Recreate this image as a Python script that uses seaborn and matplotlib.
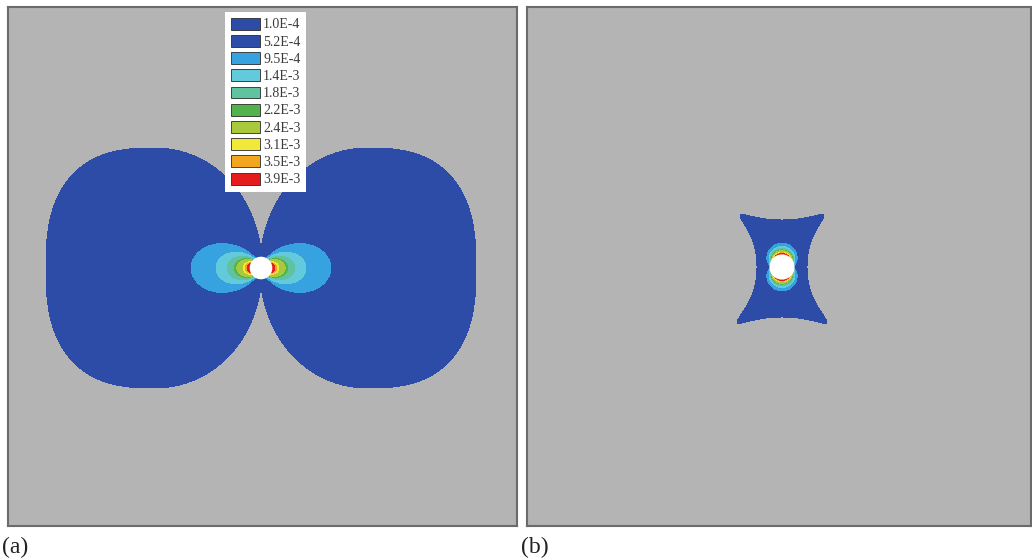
import numpy as np
import matplotlib
matplotlib.use("Agg")
import matplotlib.pyplot as plt
from matplotlib.patches import Patch, Circle
import seaborn as sns

# Contour levels of the equivalent strain and their fill colours
level_values = [1.0e-4, 5.2e-4, 9.5e-4, 1.4e-3, 1.8e-3, 2.2e-3, 2.4e-3, 3.1e-3, 3.5e-3, 3.9e-3]
level_labels = ["1.0E-4", "5.2E-4", "9.5E-4", "1.4E-3", "1.8E-3",
                "2.2E-3", "2.4E-3", "3.1E-3", "3.5E-3", "3.9E-3"]
level_colors = ["#2D4CA8", "#2D4CA8", "#36A3E0", "#62CADB", "#60C3A0",
                "#52B24C", "#A9C93C", "#F2E83A", "#F2A51E", "#E61B1B"]
panel_labels = ["(a)", "(b)"]

# Geometry of the two models (pixel-scale units, hole centre at origin)
hole_radius = [11.3, 12.6]
# (a) horizontal loading: two rounded lobes plus a near-hole concentration
lobe_center, lobe_half_w, lobe_half_h = 107.0, 108.0, 120.0
lobe_power_outer, lobe_power_inner = 2.6, 2.05
near_reach_a, near_shape_a, near_decay_a = 70.0, 2.5, 0.87
# (b) vertical loading: hourglass zone with flared corners plus caps at the hole
waist_b, flare_b, flare_height_b, flare_power_b = 25.0, 23.0, 56.0, 2.2
crown_top_b, crown_bottom_b, crown_rise_b = 47.0, 50.0, 9.0
corner_round_b = 14.0
cap_base_b, cap_rise_b, cap_decay_b = 11.0, 13.0, 2.45

FIG_W, FIG_H = 1032, 558
bg_gray = "#B4B4B4"
frame_gray = "#6B6B6B"

sns.set_theme(style="white")
plt.rcParams["font.family"] = ["Liberation Serif", "DejaVu Serif"]


def combine(far, near):
    # the plastic zone saturates below the first light-blue level;
    # the concentration near the hole only shows where it exceeds it
    far = np.minimum(far, 9.0e-4)
    near = np.where(near >= level_values[2], near, 0.0)
    return np.maximum(far, near)


def lobe_measure(x, y, xc):
    # rounded-box outer flank, elliptic inner flank facing the hole
    dx = x - xc
    facing_out = np.sign(dx) == np.sign(xc)
    n = np.where(facing_out, lobe_power_outer, lobe_power_inner)
    s = (np.abs(dx) / lobe_half_w) ** n + (np.abs(y) / lobe_half_h) ** n
    return s ** (1.0 / n)


def field_a(x, y):
    rho = np.minimum(lobe_measure(x, y, -lobe_center), lobe_measure(x, y, lobe_center))
    far = level_values[0] / np.maximum(rho, 1e-6) ** 2
    r = np.maximum(np.hypot(x, y), 1e-6)
    th = np.arctan2(y, x)
    reach = near_reach_a * np.abs(np.cos(th)) ** near_shape_a
    near = level_values[2] * (reach / r) ** near_decay_a
    return combine(far, near)


def field_b(x, y):
    # half-width widens towards the top and bottom edges (flared corners),
    # half-height rises slightly towards the corners
    fy = np.minimum(np.abs(y) / flare_height_b, 1.0)
    half_w = waist_b + flare_b * fy ** flare_power_b
    fx = np.minimum(np.abs(x) / (waist_b + flare_b), 1.0)
    crown = np.where(y >= 0, crown_top_b, crown_bottom_b)
    half_h = crown + crown_rise_b * fx ** 2
    m = corner_round_b
    rho = ((np.abs(x) / half_w) ** m + (np.abs(y) / half_h) ** m) ** (1.0 / m)
    far = level_values[0] / np.maximum(rho, 1e-6) ** 2
    r = np.maximum(np.hypot(x, y), 1e-6)
    th = np.arctan2(y, x)
    cap = cap_base_b + cap_rise_b * np.abs(np.sin(th))
    near = level_values[2] * (cap / r) ** cap_decay_b
    return combine(far, near)


# Panel boxes in pixels: left, right, top, bottom and hole centre
panels = [
    dict(box=(8, 517, 7, 526), center=(261, 268), field=field_a),
    dict(box=(527, 1031, 7, 526), center=(782, 267), field=field_b),
]

fig = plt.figure(figsize=(FIG_W / 100, FIG_H / 100), dpi=100)
fig.patch.set_facecolor("white")

for i, p in enumerate(panels):
    l, rgt, t, b = p["box"]
    cx, cy = p["center"]
    ax = fig.add_axes([l / FIG_W, 1 - b / FIG_H, (rgt - l) / FIG_W, (b - t) / FIG_H])
    x0, x1 = l - cx, rgt - cx
    y0, y1 = -(b - cy), cy - t
    xs = np.arange(x0, x1 + 0.5, 0.5)
    ys = np.arange(y0, y1 + 0.5, 0.5)
    X, Y = np.meshgrid(xs, ys)
    F = np.minimum(p["field"](X, Y), 0.99)
    ax.set_facecolor(bg_gray)
    ax.contourf(X, Y, F, levels=level_values + [1.0], colors=level_colors)
    ax.add_patch(Circle((0, 0), hole_radius[i], facecolor="white", edgecolor="none", zorder=3))
    ax.set_xlim(x0, x1)
    ax.set_ylim(y0, y1)
    ax.set_xticks([])
    ax.set_yticks([])
    for sp in ax.spines.values():
        sp.set_visible(True)
        sp.set_color(frame_gray)
        sp.set_linewidth(1.5)

# Colour key
handles = [Patch(facecolor=c, edgecolor="#2a2a2a", linewidth=0.6) for c in level_colors]
leg = fig.legend(handles, level_labels, loc="upper left",
                 bbox_to_anchor=(225 / FIG_W, 1 - 12 / FIG_H), bbox_transform=fig.transFigure,
                 frameon=True, facecolor="white", edgecolor="none", framealpha=1.0, fancybox=False,
                 fontsize=10, handlelength=2.15, handleheight=0.95, labelspacing=0.25,
                 handletextpad=0.2, borderpad=0.4, borderaxespad=0)
for txt in leg.get_texts():
    txt.set_color("#3a3a3a")

# Panel captions
fig.text(2 / FIG_W, 1 - 553 / FIG_H, panel_labels[0], fontsize=17, color="#222222", va="baseline", ha="left")
fig.text(521 / FIG_W, 1 - 553 / FIG_H, panel_labels[1], fontsize=17, color="#222222", va="baseline", ha="left")

fig.savefig("out.png", dpi=100, facecolor="white")
